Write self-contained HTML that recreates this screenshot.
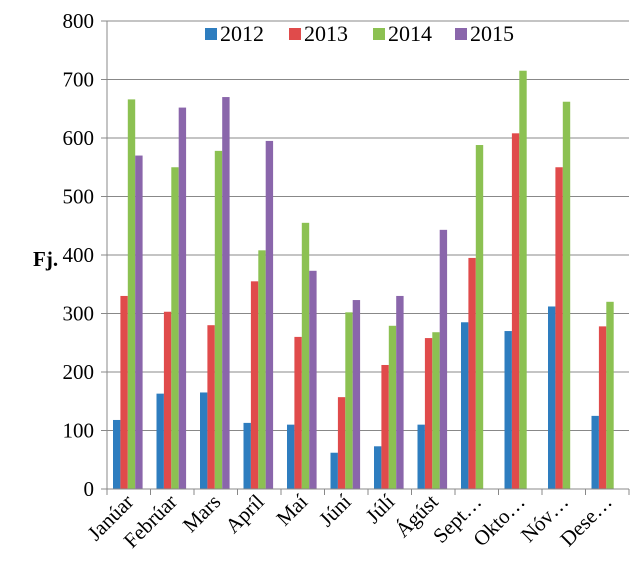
<!DOCTYPE html>
<html><head><meta charset="utf-8"><style>
body{margin:0;background:#fff}
svg text{font-family:"Liberation Serif",serif;fill:#000}
</style></head><body>
<svg id="c" width="640" height="581" xmlns="http://www.w3.org/2000/svg"></svg>
<script>
const categories=["Janúar","Febrúar","Mars","Apríl","Maí","Júní","Júlí","Ágúst","Sept…","Okto…","Nóv…","Dese…"];
const seriesNames=["2012","2013","2014","2015"];
const s2012=[118,163,165,113,110,62,73,110,285,270,312,125];
const s2013=[330,303,280,355,260,157,212,258,395,608,550,278];
const s2014=[666,550,578,408,455,302,279,268,588,715,662,320];
const s2015=[570,652,670,595,373,323,330,443,null,null,null,null];
const yTicks=[0,100,200,300,400,500,600,700,800];
const colors=["#2e7dbf","#e04b4b","#8cc152","#8a66ab"];
const series=[s2012,s2013,s2014,s2015];
const svg=document.getElementById('c');
const NS="http://www.w3.org/2000/svg";
const x0=107,x1=629,y0=489,y1=21,yMax=800;
const y=v=>y0-(v/yMax)*(y0-y1);
const gw=(x1-x0)/categories.length;
function mk(t,a,p){const e=document.createElementNS(NS,t);for(const k in a)e.setAttribute(k,a[k]);(p||svg).appendChild(e);return e;}
yTicks.forEach(t=>{
  const g=mk('line',{x1:x0,x2:x1,y1:y(t),y2:y(t),stroke:'#888','stroke-width':1});
  
  
  mk('line',{x1:x0-6,x2:x0,y1:y(t),y2:y(t),stroke:'#888'});
  const l=mk('text',{x:x0-13,y:y(t)+7,'text-anchor':'end','font-size':21});
  l.textContent=t;
  
  
});
mk('line',{x1:x0,x2:x0,y1:y1,y2:y0,stroke:'#888'});
const yt=mk('text',{x:33,y:266,'font-size':21,'font-weight':'bold'});
yt.textContent="Fj.";


const bw=7.4,off=6;
categories.forEach((c,i)=>{
  const gx=x0+i*gw;
  mk('line',{x1:gx,x2:gx,y1:y0,y2:y0+6,stroke:'#888'});
  series.forEach((s,k)=>{
    if(s[i]==null)return;
    const r=mk('rect',{x:gx+off+k*bw,y:y(s[i]),width:bw,height:y0-y(s[i]),fill:colors[k]});
    
    
  });
  const cx=gx+gw/2+6,cy=y0+14;
  const t=mk('text',{x:cx,y:cy,'text-anchor':'end','font-size':21,transform:`rotate(-45 ${cx} ${cy})`});
  t.textContent=c;
  
  
});
mk('line',{x1:x1,x2:x1,y1:y0,y2:y0+6,stroke:'#888'});
mk('line',{x1:x0,x2:x1,y1:y0,y2:y0,stroke:'#888'});
const lg=mk('rect',{x:198,y:23,width:330,height:24,fill:'#fff'});


const lx=[205,289,373,455];
seriesNames.forEach((n,k)=>{
  mk('rect',{x:lx[k],y:28,width:12,height:12,fill:colors[k]});
  const t=mk('text',{x:lx[k]+15,y:41,'font-size':22});
  t.textContent=n;
  
  
});
</script>
</body></html>
